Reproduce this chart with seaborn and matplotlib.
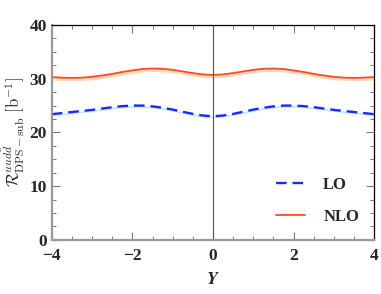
import numpy as np
import pandas as pd
import matplotlib
matplotlib.use("Agg")
import matplotlib.pyplot as plt
import seaborn as sns
from matplotlib.ticker import MultipleLocator, FuncFormatter

# Werte (Schritt 0.25)
y_rap = [-4.0, -3.75, -3.5, -3.25, -3.0, -2.75, -2.5, -2.25, -2.0,
         -1.75, -1.5, -1.25, -1.0, -0.75, -0.5, -0.25, 0.0,
         0.25, 0.5, 0.75, 1.0, 1.25, 1.5, 1.75, 2.0,
         2.25, 2.5, 2.75, 3.0, 3.25, 3.5, 3.75, 4.0]
lo = [23.4, 23.6, 23.8, 24.0, 24.2, 24.45, 24.7, 24.9, 25.0,
      25.0, 24.85, 24.6, 24.25, 23.85, 23.45, 23.15, 23.0,
      23.15, 23.45, 23.85, 24.25, 24.6, 24.85, 25.0, 25.0,
      24.9, 24.7, 24.45, 24.2, 24.0, 23.8, 23.6, 23.4]
lo_band = [23.1, 23.3, 23.5, 23.7, 23.9, 24.15, 24.4, 24.6, 24.7,
           24.7, 24.55, 24.3, 23.95, 23.55, 23.15, 22.85, 22.7,
           22.85, 23.15, 23.55, 23.95, 24.3, 24.55, 24.7, 24.7,
           24.6, 24.4, 24.15, 23.9, 23.7, 23.5, 23.3, 23.1]
nlo = [30.3, 30.2, 30.15, 30.2, 30.35, 30.6, 30.9, 31.25, 31.55,
       31.8, 31.9, 31.85, 31.65, 31.35, 31.05, 30.8, 30.7,
       30.8, 31.05, 31.35, 31.65, 31.85, 31.9, 31.8, 31.55,
       31.25, 30.9, 30.6, 30.35, 30.2, 30.15, 30.2, 30.3]
nlo_band = [29.8, 29.7, 29.65, 29.7, 29.8, 30.05, 30.35, 30.7, 31.0,
            31.25, 31.35, 31.3, 31.1, 30.8, 30.5, 30.25, 30.15,
            30.25, 30.5, 30.8, 31.1, 31.3, 31.35, 31.25, 31.0,
            30.7, 30.35, 30.05, 29.8, 29.7, 29.65, 29.7, 29.8]

df = pd.DataFrame({"Y": y_rap, "LO": lo, "NLO": nlo})

sns.set_style("ticks")
plt.rcParams["mathtext.fontset"] = "cm"
plt.rcParams["font.family"] = ["DejaVu Serif"]

fig = plt.figure(figsize=(3.81, 2.94), dpi=100)
ax = fig.add_axes([0.136, 0.184, 0.846, 0.731])

ax.fill_between(y_rap, lo_band, lo, color="#bfe6fb", lw=0)
ax.fill_between(y_rap, nlo_band, nlo, color="#fcd9b8", lw=0)
sns.lineplot(data=df, x="Y", y="LO", ax=ax, color="#1a2aff", lw=1.7,
             label="LO")
ax.lines[-1].set_dashes((4.5, 2.5))
sns.lineplot(data=df, x="Y", y="NLO", ax=ax, color="#ff4a1c", lw=1.3,
             label="NLO")
ax.axvline(0, color="#555555", lw=0.8)

ax.set_xlim(-4, 4)
ax.set_ylim(0, 40)
ax.xaxis.set_major_locator(MultipleLocator(2))
ax.xaxis.set_minor_locator(MultipleLocator(0.5))
ax.yaxis.set_major_locator(MultipleLocator(10))
ax.yaxis.set_minor_locator(MultipleLocator(2.5))
fmt = FuncFormatter(lambda v, p: "%d" % v if v >= 0 else "\u2212%d" % -v)
ax.xaxis.set_major_formatter(fmt)
ax.yaxis.set_major_formatter(fmt)
ax.tick_params(which="both", direction="in", top=True, right=True,
               color="#777777", labelsize=12.5)
ax.tick_params(axis="x", pad=6)
ax.tick_params(which="major", length=6, width=0.8)
ax.tick_params(which="minor", length=3, width=0.7)
for lab in ax.get_xticklabels() + ax.get_yticklabels():
    lab.set_family("Liberation Serif")
    lab.set_fontweight("bold")
for s in ["left", "bottom"]:
    ax.spines[s].set_color("#999999")
    ax.spines[s].set_linewidth(1.6)
for s in ["top", "right"]:
    ax.spines[s].set_color("black")
    ax.spines[s].set_linewidth(0.9)

ax.set_xlabel(r"$\boldsymbol{Y}$", fontsize=13)
ax.set_ylabel(r"$\mathcal{R}^{uud\bar{d}}_{\mathrm{DPS-sub}}\ [\mathrm{b}^{-1}]$", fontsize=12, labelpad=2)

leg = ax.legend(loc="lower right", frameon=False, handlelength=1.7,
                handletextpad=1.1, labelspacing=0.95,
                bbox_to_anchor=(1.0, 0.0),
                prop={"family": "Liberation Serif", "weight": "bold", "size": 12})

fig.savefig("out.png", dpi=100)
